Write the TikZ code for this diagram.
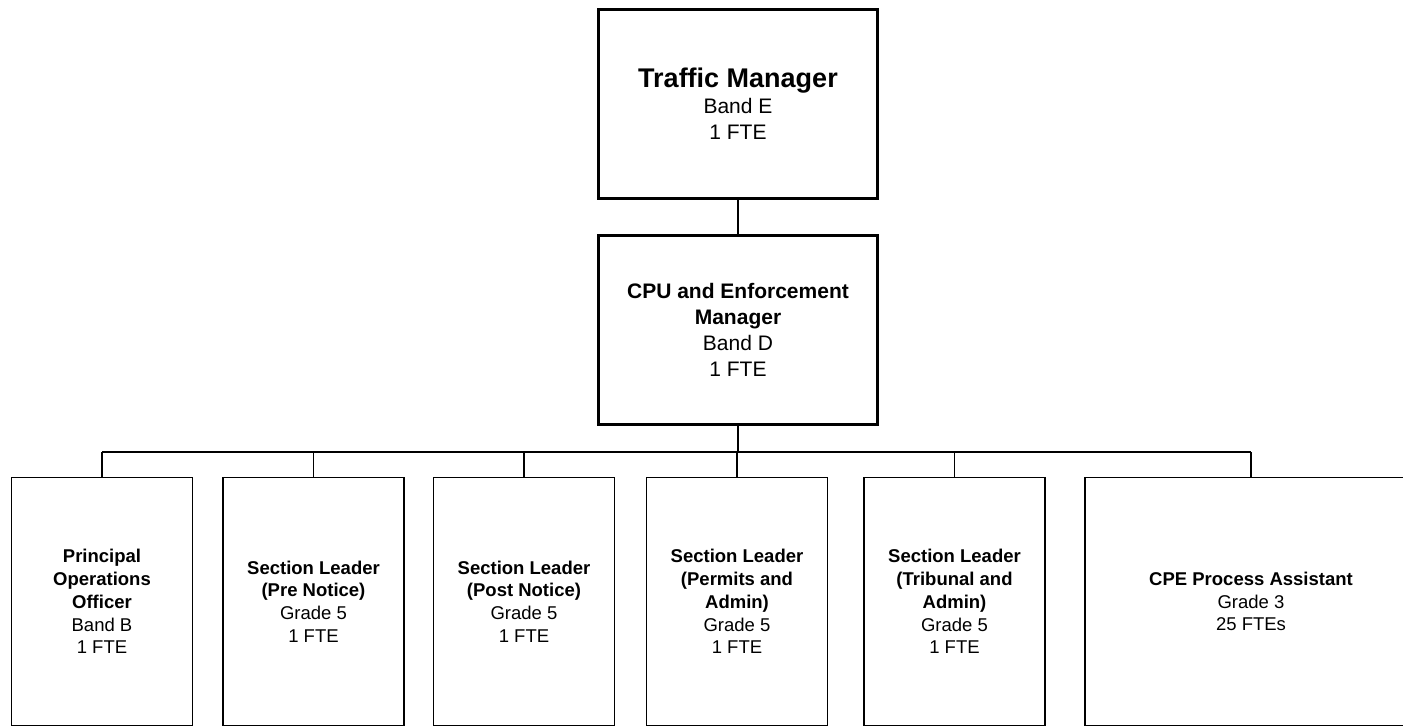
\documentclass[tikz,border=0pt]{standalone}
\usepackage{fontspec}
\setmainfont{Liberation Sans}
\begin{document}
\begin{tikzpicture}[x=1pt,y=-1pt,
  topbox/.style={draw,line width=3pt,minimum width=279pt,minimum height=189pt,align=center,inner sep=0pt,
    font=\fontsize{21}{25.8}\selectfont},
  lowbox/.style={draw,line width=1.5pt,minimum width=181pt,minimum height=248pt,align=center,inner sep=0pt,
    font=\fontsize{18.5}{22.8}\selectfont},
  wire/.style={line width=1.5pt}]
\useasboundingbox (0,0) rectangle (1403,728);
\clip (0,0) rectangle (1403,728);
\node[topbox] (tm) at (738,104) {{\fontsize{27}{28.5}\selectfont\bfseries Traffic Manager}\\Band E\\1 FTE};
\node[topbox] (cpu) at (738,330) {\textbf{CPU and Enforcement}\\\textbf{Manager}\\Band D\\1 FTE};
\node[lowbox] (b1) at (102,601.5) {\textbf{Principal}\\\textbf{Operations}\\\textbf{Officer}\\Band B\\1 FTE};
\node[lowbox] (b2) at (313.5,601.5) {\textbf{Section Leader}\\\textbf{(Pre Notice)}\\Grade 5\\1 FTE};
\node[lowbox] (b3) at (524,601.5) {\textbf{Section Leader}\\\textbf{(Post Notice)}\\Grade 5\\1 FTE};
\node[lowbox] (b4) at (737,601.5) {\textbf{Section Leader}\\\textbf{(Permits and}\\\textbf{Admin)}\\Grade 5\\1 FTE};
\node[lowbox] (b5) at (954.5,601.5) {\textbf{Section Leader}\\\textbf{(Tribunal and}\\\textbf{Admin)}\\Grade 5\\1 FTE};
\node[lowbox,minimum width=332pt] (b6) at (1251,601.5) {\textbf{CPE Process Assistant}\\Grade 3\\25 FTEs};
\draw[wire] (tm.south) -- (cpu.north);
\draw[wire] (cpu.south) -- ++(0,26) coordinate (bus);
\draw[wire] (bus -| b1.north) -- (bus -| b6.north);
\foreach \b in {b1,b2,b3,b4,b5,b6} \draw[wire] (\b.north) -- (\b.north |- bus);
\end{tikzpicture}
\end{document}
